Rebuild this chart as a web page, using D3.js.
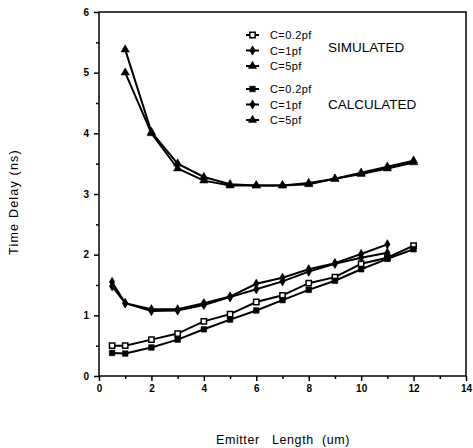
<!DOCTYPE html>
<html lang="en">
<head>
  <meta charset="UTF-8">
  <style>
    body { margin: 0; background: #fff; }
    svg { display: block; font-family: "Liberation Sans", Arial, sans-serif; }
    .tick text { font-size: 10px; font-weight: bold; }
  </style>
</head>
<body>
  <svg id="chart"></svg>
  <script src="https://d3js.org/d3.v7.min.js"></script>
  <script>
    // values
    let xFull = [0.5, 1, 2, 3, 4, 5, 6, 7, 8, 9, 10, 11, 12];
    let xC1 = [0.5, 1, 2, 3, 4, 5, 6, 7, 8, 9, 10, 11];
    let xC5 = [1, 2, 3, 4, 5, 6, 7, 8, 9, 10, 11, 12];

    let simC02 = [0.5, 0.5, 0.6, 0.7, 0.9, 1.02, 1.22, 1.33, 1.53, 1.63, 1.85, 1.95, 2.15];
    let calcC02 = [0.38, 0.37, 0.47, 0.6, 0.77, 0.93, 1.08, 1.25, 1.42, 1.57, 1.76, 1.93, 2.09];
    let simC1 = [1.55, 1.2, 1.1, 1.1, 1.2, 1.31, 1.52, 1.62, 1.76, 1.86, 2.01, 2.17];
    let calcC1 = [1.48, 1.2, 1.07, 1.08, 1.17, 1.3, 1.43, 1.56, 1.72, 1.85, 1.95, 2.03];
    let simC5 = [5.0, 4.0, 3.42, 3.22, 3.14, 3.14, 3.14, 3.16, 3.25, 3.33, 3.42, 3.52];
    let calcC5 = [5.38, 4.02, 3.5, 3.28, 3.16, 3.14, 3.14, 3.18, 3.25, 3.35, 3.45, 3.55];

    let xTicks = [0, 2, 4, 6, 8, 10, 12, 14];
    let yTicks = [0, 1, 2, 3, 4, 5, 6];
    let legendLabels = ["C=0.2pf", "C=1pf", "C=5pf"];

    let width = 473, height = 448;
    let margin = {top: 12, right: 7, bottom: 72, left: 99};

    let svg = d3.select("#chart").attr("width", width).attr("height", height);

    let x = d3.scaleLinear().domain([0, 14]).range([margin.left, width - margin.right]);
    let y = d3.scaleLinear().domain([0, 6]).range([height - margin.bottom, margin.top]);

    // frame
    svg.append("rect")
      .attr("x", x(0)).attr("y", y(6))
      .attr("width", x(14) - x(0)).attr("height", y(0) - y(6))
      .attr("fill", "none").attr("stroke", "#000").attr("stroke-width", 1.5);

    // minor ticks
    let xAxisMinor = d3.axisBottom(x).tickValues(d3.range(1, 14, 2)).tickSize(3).tickFormat("");
    let yAxisMinor = d3.axisLeft(y).tickValues(d3.range(0.5, 6, 1)).tickSize(3).tickFormat("");
    svg.append("g").attr("transform", "translate(0," + y(0) + ")").call(xAxisMinor)
      .call(g => g.select(".domain").remove());
    svg.append("g").attr("transform", "translate(" + x(0) + ",0)").call(yAxisMinor)
      .call(g => g.select(".domain").remove());

    let xAxis = d3.axisBottom(x).tickValues(xTicks).tickFormat(d3.format("d")).tickSize(5).tickPadding(4);
    let yAxis = d3.axisLeft(y).tickValues(yTicks).tickFormat(d3.format("d")).tickSize(5).tickPadding(5);
    svg.append("g").attr("transform", "translate(0," + y(0) + ")").call(xAxis)
      .call(g => g.select(".domain").remove());
    svg.append("g").attr("transform", "translate(" + x(0) + ",0)").call(yAxis)
      .call(g => g.select(".domain").remove());
    svg.selectAll(".tick line").attr("stroke-width", 1.5);

    // axis titles
    svg.append("text")
      .attr("transform", "translate(18," + 202 + ") rotate(-90)")
      .attr("text-anchor", "middle")
      .attr("font-size", 12.5)
      .attr("letter-spacing", 1.2)
      .text("Time Delay (ns)");
    svg.append("text")
      .attr("x", 283).attr("y", 444)
      .attr("text-anchor", "middle")
      .attr("font-size", 12.5)
      .attr("letter-spacing", 0.6)
      .style("white-space", "pre")
      .text("Emitter   Length  (um)");

    let sym = {
      open: d3.symbol().type(d3.symbolSquare).size(28),
      square: d3.symbol().type(d3.symbolSquare).size(32),
      diamond: d3.symbol().type(d3.symbolDiamond).size(26),
      triangle: d3.symbol().type(d3.symbolTriangle).size(30)
    };

    let series = [
      {xs: xFull, ys: simC02, m: "open"},
      {xs: xFull, ys: calcC02, m: "square"},
      {xs: xC1, ys: simC1, m: "diamond"},
      {xs: xC1, ys: calcC1, m: "diamond"},
      {xs: xC5, ys: simC5, m: "triangle"},
      {xs: xC5, ys: calcC5, m: "triangle"}
    ];

    let line = d3.line().x(d => x(d[0])).y(d => y(d[1]));

    series.forEach(s => {
      let pts = s.xs.map((v, i) => [v, s.ys[i]]);
      svg.append("path")
        .attr("d", line(pts))
        .attr("fill", "none")
        .attr("stroke", "#000")
        .attr("stroke-width", 2);
      svg.append("g").selectAll("path")
        .data(pts)
        .enter()
        .append("path")
        .attr("transform", d => "translate(" + x(d[0]) + "," + y(d[1]) + ")")
        .attr("d", sym[s.m])
        .attr("fill", s.m == "open" ? "#fff" : "#000")
        .attr("stroke", "#000")
        .attr("stroke-width", s.m == "open" ? 1.5 : 0.5);
    });

    // legend
    let legendGroups = [
      {top: 35, marks: ["open", "diamond", "triangle"], title: "SIMULATED", titleY: 52},
      {top: 89, marks: ["square", "diamond", "triangle"], title: "CALCULATED", titleY: 109}
    ];
    legendGroups.forEach(gp => {
      gp.marks.forEach((m, i) => {
        let ly = gp.top + i * 15.5;
        svg.append("line")
          .attr("x1", 246).attr("x2", 259)
          .attr("y1", ly).attr("y2", ly)
          .attr("stroke", "#000").attr("stroke-width", 2);
        svg.append("path")
          .attr("transform", "translate(252.5," + ly + ")")
          .attr("d", sym[m])
          .attr("fill", m == "open" ? "#fff" : "#000")
          .attr("stroke", "#000")
          .attr("stroke-width", m == "open" ? 1.5 : 0.5);
        svg.append("text")
          .attr("x", 270).attr("y", ly + 4)
          .attr("font-size", 11)
          .attr("letter-spacing", 0.4)
          .text(legendLabels[i]);
      });
      svg.append("text")
        .attr("x", 328).attr("y", gp.titleY)
        .attr("font-size", 13.5)
        .text(gp.title);
    });
  </script>
</body>
</html>
